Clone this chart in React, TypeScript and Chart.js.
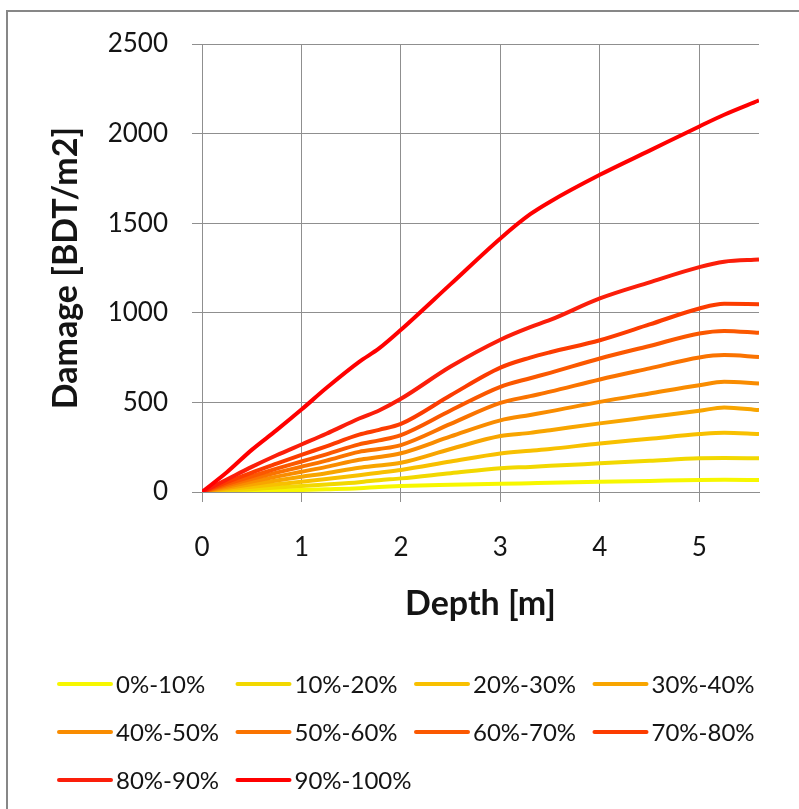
import React, { useEffect, useRef } from "react";
import { Chart, registerables } from "chart.js";

Chart.register(...registerables);

// Depth [m]
const depths = [0, 0.25, 0.5, 0.75, 1.0, 1.25, 1.58, 1.78, 2.0, 2.5, 3.0, 3.3, 3.5, 4.0, 4.5, 5.0, 5.25, 5.6];

const seriesLabels = [
  "0%-10%", "10%-20%", "20%-30%", "30%-40%", "40%-50%",
  "50%-60%", "60%-70%", "70%-80%", "80%-90%", "90%-100%",
];

// Damage [BDT/m2]
const d00_10 = [0, 3, 6, 8, 11, 15, 21, 28, 33, 40, 46, 49, 51, 57, 62, 67, 68, 67];
const d10_20 = [0, 8, 16, 25, 33, 42, 55, 66, 76, 105, 133, 140, 146, 160, 174, 188, 190, 188];
const d20_30 = [0, 15, 29, 43, 57, 72, 94, 108, 123, 170, 215, 230, 240, 271, 297, 323, 331, 323];
const d30_40 = [0, 22, 43, 64, 85, 105, 135, 148, 163, 240, 312, 330, 345, 383, 418, 453, 472, 457];
const d40_50 = [0, 29, 58, 86, 113, 140, 180, 195, 216, 310, 400, 430, 450, 503, 550, 596, 615, 606];
const d50_60 = [0, 37, 73, 108, 141, 175, 224, 240, 262, 380, 497, 535, 560, 628, 690, 751, 764, 754];
const d60_70 = [0, 45, 88, 130, 170, 210, 266, 288, 318, 455, 587, 635, 665, 745, 815, 885, 899, 888];
const d70_80 = [0, 55, 108, 158, 207, 255, 320, 347, 380, 540, 694, 750, 780, 847, 935, 1024, 1050, 1048];
const d80_90 = [0, 70, 140, 205, 265, 325, 410, 455, 520, 700, 850, 920, 960, 1080, 1170, 1255, 1285, 1297];
const d90_100 = [0, 110, 235, 345, 460, 580, 726, 801, 905, 1160, 1415, 1550, 1620, 1770, 1905, 2040, 2105, 2185];

const seriesValues = [d00_10, d10_20, d20_30, d30_40, d40_50, d50_60, d60_70, d70_80, d80_90, d90_100];

const seriesColors = [
  "#f7f700", "#f2d800", "#f8c000", "#f8a500", "#f98c00",
  "#fa7300", "#fb5800", "#fc3c00", "#fb1e0a", "#ff0000",
];

const xTickValues = [0, 1, 2, 3, 4, 5];
const yTickValues = [0, 500, 1000, 1500, 2000, 2500];

const FONT = "Lato, 'Open Sans', sans-serif";
const TEXT = "#141414";
const GRID = "#8f8f8f";

const decorPlugin = {
  id: "decor",
  afterDraw(chart: any) {
    const ctx = chart.ctx as CanvasRenderingContext2D;
    const area = chart.chartArea;
    ctx.save();
    // outer frame
    ctx.strokeStyle = "#878787";
    ctx.lineWidth = 2;
    ctx.strokeRect(7, 11, 1200, 1200);

    // axis titles
    ctx.fillStyle = TEXT;
    ctx.font = `bold 34px ${FONT}`;
    ctx.textAlign = "center";
    ctx.textBaseline = "middle";
    ctx.fillText("Depth [m]", (area.left + area.right) / 2, 604);
    ctx.save();
    ctx.translate(66, (area.top + area.bottom) / 2);
    ctx.rotate(-Math.PI / 2);
    ctx.fillText("Damage [BDT/m2]", 0, 0);
    ctx.restore();

    // legend (4 columns)
    ctx.font = `24px ${FONT}`;
    ctx.textAlign = "left";
    ctx.lineCap = "round";
    ctx.lineWidth = 4;
    seriesLabels.forEach((lab, i) => {
      const col = i % 4;
      const row = Math.floor(i / 4);
      const x0 = 59 + col * 178.5;
      const y = 684 + row * 48;
      ctx.strokeStyle = seriesColors[i];
      ctx.beginPath();
      ctx.moveTo(x0, y);
      ctx.lineTo(x0 + 52, y);
      ctx.stroke();
      ctx.fillStyle = TEXT;
      ctx.fillText(lab, x0 + 57, y + 1);
    });
    ctx.restore();
  },
};

export default function App() {
  const ref = useRef<HTMLCanvasElement | null>(null);

  useEffect(() => {
    if (!ref.current) return;
    const datasets = seriesLabels.map((label, i) => ({
      label,
      data: depths.map((d, k) => ({ x: d, y: seriesValues[i][k] })),
      borderColor: seriesColors[i],
      backgroundColor: seriesColors[i],
      borderWidth: 4,
      pointRadius: 0,
      fill: false,
      cubicInterpolationMode: "monotone" as const,
      order: seriesLabels.length - i,
    }));

    const chart = new Chart(ref.current, {
      type: "line",
      data: { datasets },
      plugins: [decorPlugin],
      options: {
        animation: false,
        responsive: false,
        events: [],
        layout: { padding: { left: 0, right: 40, top: 44, bottom: 0 } },
        plugins: {
          legend: { display: false },
          tooltip: { enabled: false },
          title: { display: false },
        },
        scales: {
          x: {
            type: "linear",
            min: 0,
            max: 5.6,
            afterFit: (s: any) => {
              s.height = 809 - 492;
            },
            afterBuildTicks: (s: any) => {
              s.ticks = xTickValues.map((v) => ({ value: v }));
            },
            ticks: {
              stepSize: 1,
              includeBounds: false,
              font: { family: FONT, size: 26 },
              color: TEXT,
              padding: 30,
              maxRotation: 0,
              callback: (v: any) => String(v),
            },
            grid: { color: GRID, lineWidth: 1, tickLength: 10, drawTicks: true },
            border: { color: GRID, width: 1 },
          },
          y: {
            type: "linear",
            min: 0,
            max: 2500,
            afterFit: (s: any) => {
              s.width = 202;
            },
            afterBuildTicks: (s: any) => {
              s.ticks = yTickValues.map((v) => ({ value: v }));
            },
            ticks: {
              stepSize: 500,
              font: { family: FONT, size: 26 },
              color: TEXT,
              padding: 24,
              callback: (v: any) => String(v),
            },
            grid: { color: GRID, lineWidth: 1, tickLength: 10, drawTicks: true },
            border: { color: GRID, width: 1 },
          },
        },
      },
    });
    return () => chart.destroy();
  }, []);

  return (
    <div style={{ position: "fixed", left: 0, top: 0, width: 799, height: 809, background: "#fff" }}>
      <canvas ref={ref} width={799} height={809} style={{ display: "block" }} />
    </div>
  );
}
